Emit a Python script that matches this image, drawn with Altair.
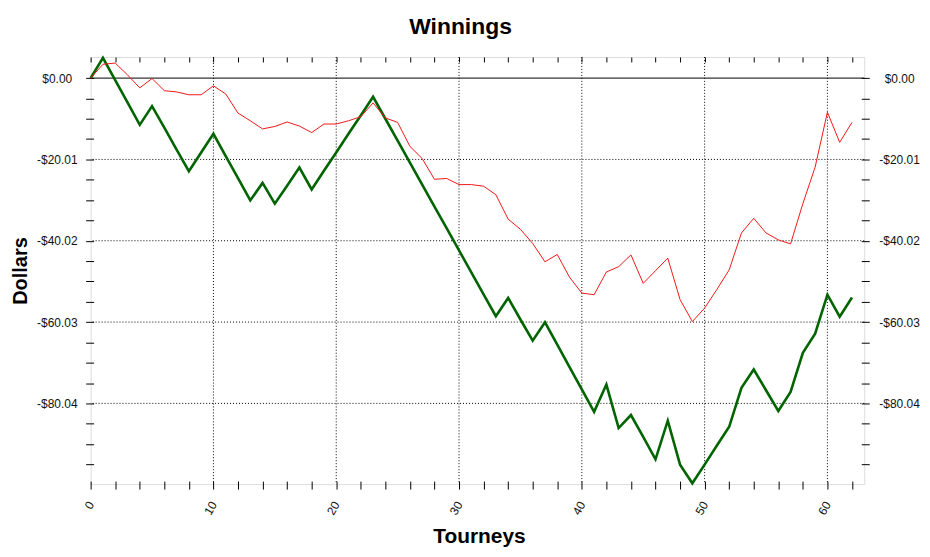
import altair as alt
import pandas as pd

# ---- data ----
tourneys = list(range(63))
green_vals = [0.0, 5.0, -0.5, -6.0, -11.5, -6.9, -12.2, -17.6, -22.9, -18.3,
              -13.7, -19.2, -24.6, -30.1, -25.8, -30.9, -26.5, -22.0, -27.4, -22.8,
              -18.3, -13.7, -9.2, -4.6, -10.0, -15.4, -20.8, -26.2, -31.6, -37.0,
              -42.4, -47.8, -53.2, -58.6, -54.1, -59.4, -64.6, -60.1, -65.6, -71.1,
              -76.6, -82.1, -75.4, -86.1, -82.9, -88.3, -93.8, -84.3, -95.1, -99.7,
              -95.1, -90.4, -85.8, -76.2, -71.7, -76.8, -81.9, -77.2, -67.6, -62.9,
              -53.3, -58.7, -54.0]
red_vals = [0.0, 3.4, 3.7, 0.8, -2.4, -0.1, -3.1, -3.4, -4.1, -4.1,
            -1.9, -3.9, -8.6, -10.5, -12.5, -11.9, -10.8, -11.8, -13.4, -11.3,
            -11.3, -10.5, -9.5, -6.1, -9.8, -10.9, -16.8, -19.8, -24.9, -24.7,
            -26.2, -26.2, -26.6, -28.7, -34.7, -37.2, -40.7, -45.2, -43.4, -49.0,
            -52.9, -53.3, -47.7, -46.4, -43.5, -50.5, -47.4, -44.3, -54.5, -59.9,
            -56.6, -52.0, -47.2, -38.1, -34.5, -38.1, -39.8, -40.8, -30.9, -21.9,
            -8.4, -15.8, -10.9]

x_ticks = [0, 2, 4, 6, 8, 10, 12, 14, 16, 18, 20, 22, 24, 26, 28, 30, 32, 34, 36, 38,
           40, 42, 44, 46, 48, 50, 52, 54, 56, 58, 60, 62]
x_grid = [10, 20, 30, 40, 50, 60]
y_ticks = [0.0, -5.0025, -10.005, -15.0075, -20.01, -25.0125, -30.015, -35.0175,
           -40.02, -45.0225, -50.025, -55.0275, -60.03, -65.0325, -70.035, -75.0375,
           -80.04, -85.0425, -90.045, -95.0475]
y_major = [0.0, -20.01, -40.02, -60.03, -80.04]
y_grid = [-20.01, -40.02, -60.03, -80.04]
zero_line = [0.0]

df = pd.DataFrame({"tourney": tourneys, "green": green_vals, "red": red_vals})

FONT = "Liberation Sans"
xs = alt.Scale(domain=[0, 63], nice=False, zero=False)
ys = alt.Scale(domain=[-99.9, 5.2], nice=False, zero=False)

major_js = "[" + ",".join(str(v) for v in y_major) + "]"
y_label_expr = (
    "indexof(" + major_js + ", datum.value) >= 0 ? "
    "(datum.value < 0 ? '-$' + format(-datum.value, '.2f') : '$' + format(datum.value, '.2f')) : ''"
)

common_y = dict(values=y_ticks, labelExpr=y_label_expr, labelAlign="center",
                tickSize=8, offset=-3, domain=False, grid=False,
                labelOverlap=False, labelFlush=False, labelFont=FONT,
                labelFontSize=12, labelColor="#111111", tickColor="black")

left_axis = alt.Axis(orient="left", labelPadding=29, title="Dollars",
                     titleFont=FONT, titleFontSize=20, titleFontWeight="bold",
                     titleColor="black", titleAngle=270, titleX=-67, titleY=214.5,
                     titleBaseline="alphabetic", titleAlign="center", **common_y)
right_axis = alt.Axis(orient="right", labelPadding=30, **common_y)

bottom_axis = alt.Axis(orient="bottom", values=x_ticks,
                       labelExpr="datum.value % 10 === 0 ? datum.label : ''",
                       labelAngle=300, tickSize=8, offset=-3, labelPadding=13,
                       domain=False, grid=False, labelOverlap=False, labelFlush=False,
                       labelFont=FONT, labelFontSize=12, labelColor="#111111",
                       tickColor="black", title="Tourneys", titleFont=FONT,
                       titleFontSize=21, titleFontWeight="bold", titleColor="black",
                       titleX=390, titleY=62, titleBaseline="alphabetic",
                       titleAlign="center")
top_axis = alt.Axis(orient="top", values=x_ticks, labels=False, tickSize=5,
                    offset=-5, domain=False, grid=False, tickColor="black")

vgrid = alt.Chart(pd.DataFrame({"v": x_grid})).mark_rule(
    color="black", strokeWidth=1, strokeDash=[1, 2]
).encode(x=alt.X("v:Q", scale=xs, axis=None))

hgrid = alt.Chart(pd.DataFrame({"v": y_grid})).mark_rule(
    color="black", strokeWidth=1, strokeDash=[1, 2]
).encode(y=alt.Y("v:Q", scale=ys, axis=None))

zline = alt.Chart(pd.DataFrame({"v": zero_line})).mark_rule(
    color="black", strokeWidth=1
).encode(y=alt.Y("v:Q", scale=ys, axis=None))

green = alt.Chart(df).mark_line(color="#006400", strokeWidth=2.6).encode(
    x=alt.X("tourney:Q", scale=xs, axis=bottom_axis),
    y=alt.Y("green:Q", scale=ys, axis=left_axis),
)

red = alt.Chart(df).mark_line(color="#f01818", strokeWidth=1).encode(
    x=alt.X("tourney:Q", scale=xs, axis=top_axis, title=None),
    y=alt.Y("red:Q", scale=ys, axis=right_axis, title=None),
)

chart = alt.layer(vgrid, hgrid, zline, green, red).properties(
    width=777,
    height=429,
    autosize=alt.AutoSizeParams(type="none"),
    padding={"left": 83, "top": 48, "right": 58, "bottom": 64},
    title=alt.TitleParams(text="Winnings", font=FONT, fontSize=23,
                          fontWeight="bold", color="black", anchor="middle",
                          frame="group", dx=-17, dy=25, offset=21, baseline="alphabetic"),
).configure_view(fill="#d3d3d3", stroke="black", strokeWidth=1
).configure(background="white")

chart.save("out.html", embed_options={"renderer": "svg", "actions": False})
